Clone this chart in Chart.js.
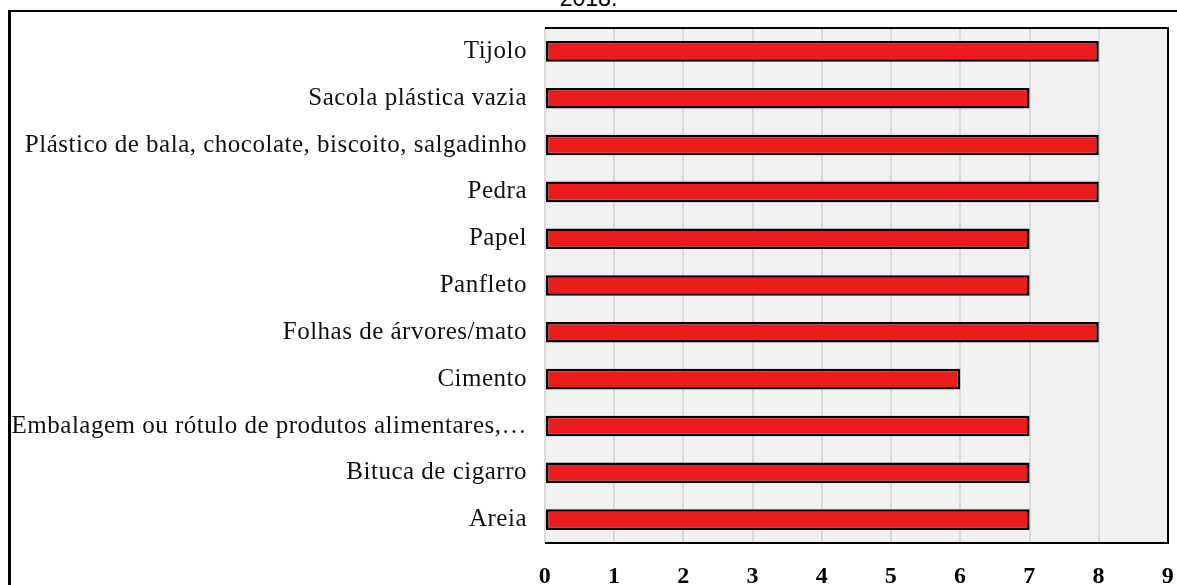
<!DOCTYPE html>
<html>
<head>
<meta charset="utf-8">
<script src="https://cdn.jsdelivr.net/npm/chart.js@4.4.1/dist/chart.umd.min.js"></script>
<style>
  html, body { margin: 0; padding: 0; background: #fff; overflow: hidden; }
  #wrap { position: relative; width: 1177px; height: 585px; }
  #frame { position: absolute; left: 8px; top: 10px; width: 1300px; height: 700px;
           border-left: 3px solid #000; border-top: 2px solid #000; box-sizing: border-box; }
  #year { position: absolute; top: -15px; left: 0; width: 1177px; text-align: center;
          font-family: "Liberation Sans", Arial, sans-serif; font-size: 23px; color: #000; }
  #c { position: absolute; left: 0; top: 0; }
</style>
</head>
<body>
<div id="wrap">
  <div id="year">2018.</div>
  <div id="frame"></div>
  <canvas id="c" width="1177" height="585"></canvas>
</div>
<script>
// Items found, counted per category
const categories = [
  "Tijolo",
  "Sacola plástica vazia",
  "Plástico de bala, chocolate, biscoito, salgadinho",
  "Pedra",
  "Papel",
  "Panfleto",
  "Folhas de árvores/mato",
  "Cimento",
  "Embalagem ou rótulo de produtos alimentares,…",
  "Bituca de cigarro",
  "Areia"
];
const counts = [8, 7, 8, 8, 7, 7, 8, 6, 7, 7, 7];
const xTicks = [0, 1, 2, 3, 4, 5, 6, 7, 8, 9];

// Grey plot background, slightly spaced label text, and a black frame on top, right and bottom
const plotBox = {
  id: 'plotBox',
  beforeDraw(chart) {
    const { ctx, chartArea: a } = chart;
    ctx.save();
    ctx.fillStyle = '#f1f1f1';
    ctx.fillRect(a.left, a.top, a.right - a.left, a.bottom - a.top);
    ctx.restore();
    ctx.letterSpacing = '0.5px';
  },
  afterDraw(chart) {
    const { ctx, chartArea: a } = chart;
    ctx.letterSpacing = '0px';
    ctx.save();
    ctx.strokeStyle = '#000';
    ctx.lineWidth = 2;
    ctx.beginPath();
    ctx.moveTo(a.left, a.top);
    ctx.lineTo(a.right, a.top);
    ctx.lineTo(a.right, a.bottom);
    ctx.lineTo(a.left, a.bottom);
    ctx.stroke();
    ctx.restore();
  }
};

new Chart(document.getElementById('c'), {
  type: 'bar',
  data: {
    labels: categories,
    datasets: [{
      data: counts,
      backgroundColor: '#ed1c1c',
      borderColor: '#000',
      borderWidth: 2.5,
      borderSkipped: false,
      categoryPercentage: 1,
      barPercentage: 0.44
    }]
  },
  options: {
    indexAxis: 'y',
    responsive: false,
    animation: false,
    layout: { padding: { left: 0, top: 28, right: 9, bottom: 0 } },
    plugins: { legend: { display: false }, tooltip: { enabled: false } },
    scales: {
      x: {
        min: 0, max: 9,
        afterBuildTicks(scale) { scale.ticks = xTicks.map(v => ({ value: v })); },
        afterFit(scale) { scale.height = 42; scale.paddingLeft = 0; scale.paddingRight = 0; },
        grid: { color: '#d9d9d9', lineWidth: 2, drawTicks: false },
        border: { display: false },
        ticks: {
          padding: 19,
          color: '#000',
          font: { family: '"Liberation Serif", "Times New Roman", serif', size: 24, weight: 'bold' }
        }
      },
      y: {
        afterFit(scale) { scale.width = 545; scale.paddingTop = 0; scale.paddingBottom = 0; },
        grid: { display: false, drawTicks: false },
        border: { display: false },
        ticks: {
          padding: 18,
          color: '#111',
          autoSkip: false,
          font: { family: '"Liberation Serif", "Times New Roman", serif', size: 25 }
        }
      }
    }
  },
  plugins: [plotBox]
});
</script>
</body>
</html>
